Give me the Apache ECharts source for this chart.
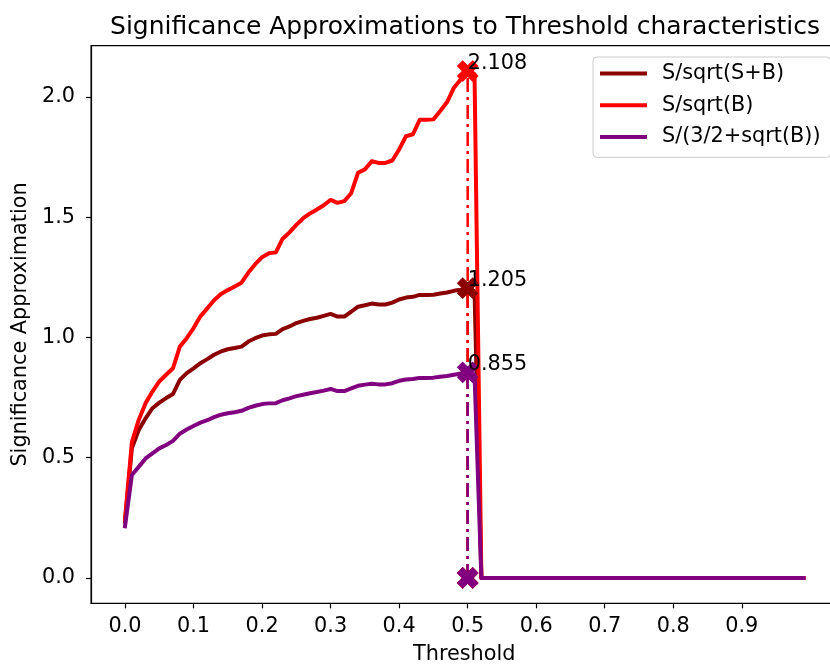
<!DOCTYPE html>
<html>
<head>
<meta charset="utf-8">
<script src="https://cdn.jsdelivr.net/npm/echarts@6/dist/echarts.min.js"></script>
<style>
  html, body { margin: 0; padding: 0; background: #ffffff; }
  #chart { width: 830px; height: 668px; }
</style>
</head>
<body>
<div id="chart"></div>
<script>
// Threshold scan (cut value on the classifier output)
const thresholds = [
  0.00, 0.01, 0.02, 0.03, 0.04, 0.05, 0.06, 0.07, 0.08, 0.09,
  0.10, 0.11, 0.12, 0.13, 0.14, 0.15, 0.16, 0.17, 0.18, 0.19,
  0.20, 0.21, 0.22, 0.23, 0.24, 0.25, 0.26, 0.27, 0.28, 0.29,
  0.30, 0.31, 0.32, 0.33, 0.34, 0.35, 0.36, 0.37, 0.38, 0.39,
  0.40, 0.41, 0.42, 0.43, 0.44, 0.45, 0.46, 0.47, 0.48, 0.49,
  0.50, 0.51, 0.52, 0.53, 0.54, 0.55, 0.56, 0.57, 0.58, 0.59,
  0.60, 0.61, 0.62, 0.63, 0.64, 0.65, 0.66, 0.67, 0.68, 0.69,
  0.70, 0.71, 0.72, 0.73, 0.74, 0.75, 0.76, 0.77, 0.78, 0.79,
  0.80, 0.81, 0.82, 0.83, 0.84, 0.85, 0.86, 0.87, 0.88, 0.89,
  0.90, 0.91, 0.92, 0.93, 0.94, 0.95, 0.96, 0.97, 0.98, 0.99
];

// S/sqrt(S+B)
const sigSqrtSB = [
  0.235, 0.539, 0.615, 0.664, 0.706, 0.729, 0.748, 0.765, 0.824, 0.852,
  0.872, 0.893, 0.910, 0.928, 0.942, 0.951, 0.956, 0.962, 0.983, 0.997,
  1.008, 1.013, 1.015, 1.035, 1.046, 1.060, 1.069, 1.077, 1.082, 1.090,
  1.098, 1.087, 1.087, 1.107, 1.128, 1.134, 1.141, 1.137, 1.137, 1.145,
  1.158, 1.166, 1.169, 1.177, 1.177, 1.178, 1.183, 1.187, 1.194, 1.199,
  1.205, 1.192, 0, 0, 0, 0, 0, 0, 0, 0,
  0, 0, 0, 0, 0, 0, 0, 0, 0, 0,
  0, 0, 0, 0, 0, 0, 0, 0, 0, 0,
  0, 0, 0, 0, 0, 0, 0, 0, 0, 0,
  0, 0, 0, 0, 0, 0, 0, 0, 0, 0
];

// S/sqrt(B)
const sigSqrtB = [
  0.245, 0.565, 0.657, 0.727, 0.775, 0.817, 0.845, 0.872, 0.962, 0.997,
  1.039, 1.088, 1.121, 1.155, 1.181, 1.197, 1.212, 1.228, 1.270, 1.305,
  1.334, 1.350, 1.354, 1.411, 1.437, 1.468, 1.496, 1.516, 1.532, 1.550,
  1.572, 1.560, 1.567, 1.600, 1.685, 1.699, 1.733, 1.726, 1.726, 1.736,
  1.782, 1.837, 1.845, 1.905, 1.905, 1.907, 1.942, 1.979, 2.039, 2.074,
  2.108, 2.095, 0, 0, 0, 0, 0, 0, 0, 0,
  0, 0, 0, 0, 0, 0, 0, 0, 0, 0,
  0, 0, 0, 0, 0, 0, 0, 0, 0, 0,
  0, 0, 0, 0, 0, 0, 0, 0, 0, 0,
  0, 0, 0, 0, 0, 0, 0, 0, 0, 0
];

// S/(3/2+sqrt(B))
const sigPunzi = [
  0.215, 0.428, 0.462, 0.497, 0.518, 0.539, 0.553, 0.570, 0.600, 0.617,
  0.632, 0.646, 0.656, 0.669, 0.679, 0.685, 0.689, 0.695, 0.707, 0.716,
  0.723, 0.726, 0.727, 0.739, 0.747, 0.756, 0.762, 0.768, 0.773, 0.779,
  0.786, 0.777, 0.777, 0.788, 0.799, 0.804, 0.808, 0.805, 0.805, 0.810,
  0.820, 0.825, 0.827, 0.832, 0.832, 0.833, 0.837, 0.840, 0.845, 0.850,
  0.855, 0.845, 0, 0, 0, 0, 0, 0, 0, 0,
  0, 0, 0, 0, 0, 0, 0, 0, 0, 0,
  0, 0, 0, 0, 0, 0, 0, 0, 0, 0,
  0, 0, 0, 0, 0, 0, 0, 0, 0, 0,
  0, 0, 0, 0, 0, 0, 0, 0, 0, 0
];

const seriesNames = ['S/sqrt(S+B)', 'S/sqrt(B)', 'S/(3/2+sqrt(B))'];
const seriesColors = ['#8b0000', '#ff0000', '#800080'];
const xTickValues = [0.0, 0.1, 0.2, 0.3, 0.4, 0.5, 0.6, 0.7, 0.8, 0.9];
const yTickValues = [0.0, 0.5, 1.0, 1.5, 2.0];

const FONT = 'DejaVu Sans';
const FS = 20.8;

// filled "X" marker
const X_MARK = 'path://M424,0 L566,141 L424,283 L566,424 L424,566 L283,424 L141,566 L0,424 L141,283 L0,141 L141,0 L283,141 Z';

const curves = [sigSqrtSB, sigSqrtB, sigPunzi];

// axis limits with 5% padding around the data
const xLo = Math.min(...thresholds), xHi = Math.max(...thresholds);
const xPad = 0.05 * (xHi - xLo);
const yLo = 0, yHi = Math.max(...curves.map(c => Math.max(...c)));
const yPad = 0.05 * (yHi - yLo);

const series = [];
curves.forEach((vals, i) => {
  series.push({
    name: seriesNames[i],
    type: 'line',
    data: thresholds.map((t, k) => [t, vals[k]]),
    showSymbol: false,
    symbol: 'none',
    lineStyle: { color: seriesColors[i], width: 4, cap: 'square', join: 'round' },
    itemStyle: { color: seriesColors[i] },
    z: 2 + i * 3,
    silent: true
  });
});
curves.forEach((vals, i) => {
  // best threshold for this figure of merit
  let best = 0;
  vals.forEach((v, k) => { if (v > vals[best]) best = k; });
  const bx = thresholds[best], by = vals[best];
  series.push({
    name: seriesNames[i] + ' best cut',
    type: 'line',
    data: [[bx, 0], [bx, by]],
    showSymbol: false,
    symbol: 'none',
    lineStyle: { color: seriesColors[i], width: 2.5, type: [14, 5, 3, 5], cap: 'butt' },
    z: 3 + i * 3,
    silent: true
  });
  series.push({
    name: seriesNames[i] + ' markers',
    type: 'scatter',
    data: [[bx, by], [bx, 0]],
    symbol: X_MARK,
    symbolSize: 20,
    itemStyle: { color: seriesColors[i], borderColor: seriesColors[i], borderWidth: 1.2, opacity: 1 },
    label: {
      show: true,
      position: 'inside',
      align: 'left',
      verticalAlign: 'middle',
      offset: [0, -7.5],
      fontFamily: FONT,
      fontSize: FS,
      color: '#000',
      formatter: p => (p.dataIndex === 0 ? p.value[1].toFixed(3) : '')
    },
    z: 20 + i,
    silent: true
  });
});

const chart = echarts.init(document.getElementById('chart'), null, { renderer: 'canvas' });
chart.setOption({
  animation: false,
  backgroundColor: '#ffffff',
  title: {
    text: 'Significance Approximations to Threshold characteristics',
    left: 460,
    top: 7,
    textAlign: 'center',
    textStyle: { fontFamily: FONT, fontSize: 25, fontWeight: 'normal', color: '#000', lineHeight: 30 }
  },
  legend: {
    data: seriesNames,
    orient: 'vertical',
    left: 593,
    top: 57,
    padding: [6, 10, 10, 7],
    itemGap: 10.7,
    itemWidth: 47,
    itemHeight: 4,
    icon: 'path://M0,0 H47 V4 H0 Z',
    backgroundColor: 'rgba(255,255,255,0.8)',
    borderColor: '#cccccc',
    borderWidth: 1,
    borderRadius: 4,
    selectedMode: false,
    textStyle: { fontFamily: FONT, fontSize: FS, color: '#000', lineHeight: 21, padding: [0, 0, 0, 10] }
  },
  grid: {
    left: 91.1,
    top: 45.7,
    width: 746.3,
    height: 557.6,
    show: true,
    borderColor: '#000',
    borderWidth: 1.2,
    backgroundColor: 'transparent',
    containLabel: false,
    outerBoundsMode: 'none'
  },
  xAxis: {
    type: 'value',
    min: xLo - xPad,
    max: xHi + xPad,
    name: 'Threshold',
    nameLocation: 'middle',
    nameGap: 41,
    nameTextStyle: { fontFamily: FONT, fontSize: FS, color: '#000', lineHeight: 21 },
    axisLine: { show: true, onZero: false, lineStyle: { color: '#000', width: 1.2 } },
    axisTick: { show: true, inside: false, length: 5, lineStyle: { color: '#000', width: 1.2 }, customValues: xTickValues },
    axisLabel: {
      show: true, margin: 13, fontFamily: FONT, fontSize: FS, color: '#000', lineHeight: 21,
      customValues: xTickValues,
      formatter: v => v.toFixed(1)
    },
    splitLine: { show: false }
  },
  yAxis: {
    type: 'value',
    min: yLo - yPad,
    max: yHi + yPad,
    name: 'Significance Approximation',
    nameLocation: 'middle',
    nameGap: 58,
    nameRotate: 90,
    nameTextStyle: { fontFamily: FONT, fontSize: FS, color: '#000', lineHeight: 21 },
    axisLine: { show: true, onZero: false, lineStyle: { color: '#000', width: 1.2 } },
    axisTick: { show: true, inside: false, length: 5, lineStyle: { color: '#000', width: 1.2 }, customValues: yTickValues },
    axisLabel: {
      show: true, margin: 16, fontFamily: FONT, fontSize: FS, color: '#000', lineHeight: 21,
      customValues: yTickValues,
      formatter: v => v.toFixed(1)
    },
    splitLine: { show: false }
  },
  series: series
});
</script>
</body>
</html>
